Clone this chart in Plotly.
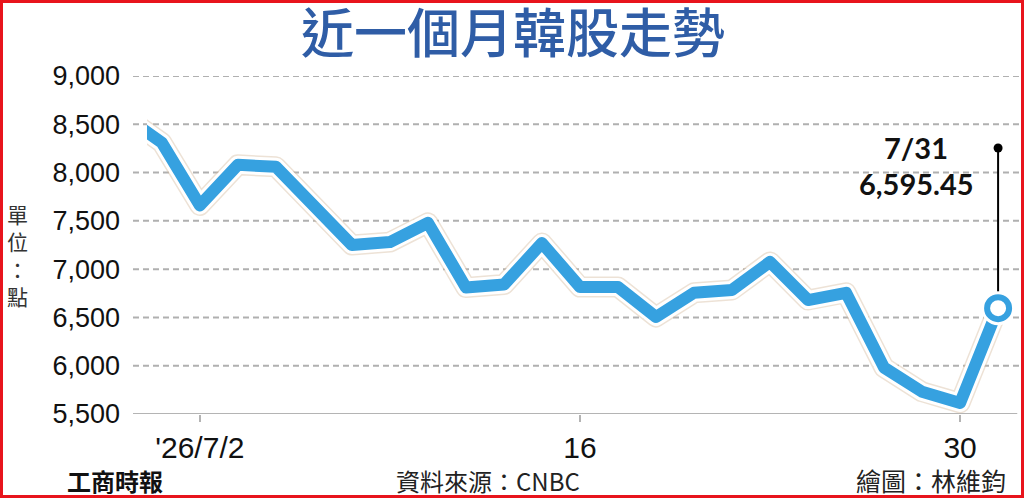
import plotly.graph_objects as go

# KOSPI closes, last month
dates = ["6/30", "7/1", "7/2", "7/3", "7/6", "7/7", "7/8", "7/9", "7/10",
         "7/13", "7/14", "7/15", "7/16", "7/17", "7/20", "7/21", "7/22",
         "7/23", "7/24", "7/27", "7/28", "7/29", "7/30", "7/31"]
kospi = [8590, 8310, 7660, 8080, 8060, 7650, 7250, 7280, 7480,
         6810, 6840, 7270, 6815, 6815, 6505, 6755, 6785,
         7075, 6680, 6755, 5980, 5730, 5615, 6595.45]

y_ticks = [5500, 6000, 6500, 7000, 7500, 8000, 8500, 9000]
x_tick_dates = ["7/2", "7/16", "7/30"]
x_tick_text = ["'26/7/2", "16", "30"]

callout_top = 8255

W, H = 1024, 498
L, R, T, B = 147, 5, 76, 84
pw, ph = W - L - R, H - T - B

blue = "#36a1e0"
fig = go.Figure()

# shadow + white halo + blue line
fig.add_trace(go.Scatter(x=dates, y=kospi, mode="lines",
                         line=dict(color="rgba(215,190,165,0.45)", width=21)))
fig.add_trace(go.Scatter(x=dates, y=kospi, mode="lines",
                         line=dict(color="white", width=18)))
fig.add_trace(go.Scatter(x=dates, y=kospi, mode="lines",
                         line=dict(color=blue, width=12)))

# last point marker
fig.add_trace(go.Scatter(x=dates[-1:], y=kospi[-1:], mode="markers",
                         marker=dict(size=34, color="white"), cliponaxis=False))
fig.add_trace(go.Scatter(x=dates[-1:], y=kospi[-1:], mode="markers",
                         marker=dict(size=22, color="white", line=dict(color=blue, width=6)),
                         cliponaxis=False))
# callout dot
fig.add_trace(go.Scatter(x=dates[-1:], y=[callout_top], mode="markers",
                         marker=dict(size=9, color="black"), cliponaxis=False))

shapes = []
gx0 = -14 / pw
for v in y_ticks[1:]:
    shapes.append(dict(type="line", xref="paper", yref="y", x0=gx0, x1=1, y0=v, y1=v,
                       line=dict(color="#b0b0b0", width=2, dash="6px,4px"), layer="below"))
shapes.append(dict(type="line", xref="paper", yref="y", x0=gx0, x1=0.998,
                   y0=y_ticks[0], y1=y_ticks[0],
                   line=dict(color="#b4b4b4", width=2), layer="below"))
# callout leader
shapes.append(dict(type="line", xref="x", yref="y", x0=dates[-1], x1=dates[-1],
                   y0=callout_top, y1=kospi[-1], line=dict(color="black", width=2),
                   layer="below"))
# red frame
shapes.append(dict(type="rect", xref="paper", yref="paper",
                   x0=-L / pw, x1=1 + R / pw, y0=-B / ph, y1=1 + T / ph,
                   line=dict(color="#e8141c", width=6)))

cjk = "Noto Sans CJK TC"


def note(text, x, y, size, color="#222", family=cjk, anchor="center", weight="normal"):
    return dict(text=text, x=(x - L) / pw, y=1 - (y - T) / ph, xref="paper", yref="paper",
                xanchor=anchor, yanchor="middle", showarrow=False,
                font=dict(family=family, size=size, color=color, weight=weight))


annotations = [
    note("近一個月韓股走勢", 513, 30, 53, "#2f5da6", weight=500),
    note("單<br>位<br>：<br>點", 17, 255, 21, "#333"),
    note("7/31", 916, 147, 29, "#111", "Lato", weight="bold"),
    note("6,595.45", 916, 183, 29, "#111", "Lato", weight="bold"),
    note("工商時報", 115, 480, 24, "#111", weight="bold"),
    note("資料來源：CNBC", 394, 480, 24, anchor="left"),
    note("繪圖：林維鈞", 1008, 480, 25, anchor="right"),
]

fig.update_layout(
    width=W, height=H,
    margin=dict(l=L, r=R, t=T, b=B, pad=0),
    plot_bgcolor="white", paper_bgcolor="white",
    showlegend=False,
    shapes=shapes, annotations=annotations,
    xaxis=dict(type="category", range=[0.61, 23.55], showgrid=False, zeroline=False,
               showline=False, tickmode="array", tickvals=x_tick_dates, ticktext=x_tick_text,
               ticks="outside", ticklen=7, tickwidth=2, tickcolor="#b4b4b4",
               tickfont=dict(family="Liberation Sans", size=30, color="#111")),
    yaxis=dict(range=[5500, 9000], showgrid=False, zeroline=False, showline=False,
               tickmode="array", tickvals=y_ticks, tickformat=",", ticks="",
               ticklabelstandoff=26,
               tickfont=dict(family="Liberation Sans", size=27, color="#111")),
)

fig.write_html("out.html", config={"displayModeBar": False},
               post_script="document.body.style.margin='0';"
               "document.querySelectorAll('.scatterlayer path.js-line')"
               ".forEach(function(p){p.style.strokeLinejoin='round';});")
